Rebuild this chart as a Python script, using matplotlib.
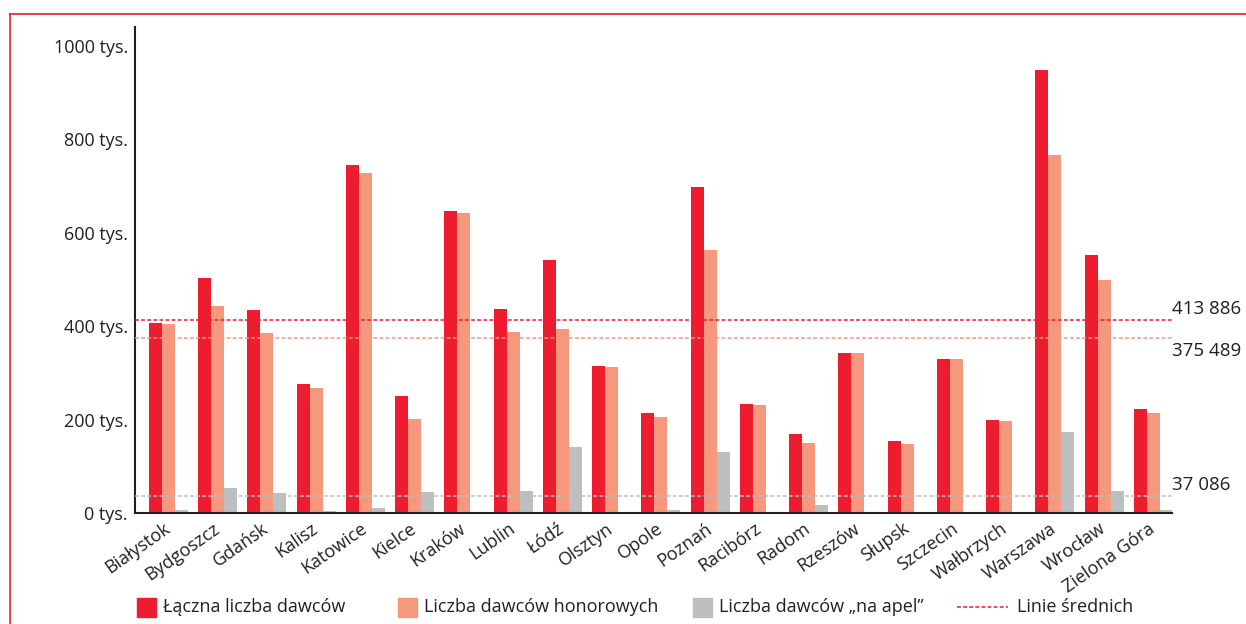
import matplotlib
matplotlib.use("Agg")
import matplotlib.pyplot as plt
from matplotlib.patches import Rectangle
from matplotlib.lines import Line2D
import numpy as np

# dane (w tysiącach)
miasta = ["Białystok", "Bydgoszcz", "Gdańsk", "Kalisz", "Katowice", "Kielce", "Kraków",
          "Lublin", "Łódź", "Olsztyn", "Opole", "Poznań", "Racibórz", "Radom", "Rzeszów",
          "Słupsk", "Szczecin", "Wałbrzych", "Warszawa", "Wrocław", "Zielona Góra"]
laczna = [407, 503, 435, 276, 745, 250, 647, 437, 542, 315, 214, 698, 233, 169, 343,
          154, 330, 199, 947, 553, 223]
honorowi = [405, 443, 385, 268, 728, 201, 642, 388, 394, 313, 206, 563, 231, 150, 343,
            148, 330, 197, 767, 499, 214]
na_apel = [6, 54, 43, 4, 11, 45, 0, 47, 141, 0, 6, 131, 0, 17, 0,
           2, 0, 0, 173, 47, 6]
srednie = [413.886, 375.489, 37.086]
srednie_etykiety = ["413 886", "375 489", "37 086"]
yticks = [0, 200, 400, 600, 800, 1000]

CZERWONY = "#ED1C2E"
LOSOSIOWY = "#F5987E"
SZARY = "#BCBEC0"
TEKST = "#231F20"

plt.rcParams['font.family'] = ['Open Sans', 'DejaVu Sans']
plt.rcParams['font.size'] = 13

fig = plt.figure(figsize=(12.46, 6.24), dpi=100)
ax = fig.add_axes([135 / 1246, 1 - 513 / 624, (1172 - 135) / 1246, (513 - 27) / 624])

x = np.arange(len(miasta))
w = 0.264
ax.bar(x - w, laczna, w, color=CZERWONY, zorder=2)
ax.bar(x, honorowi, w, color=LOSOSIOWY, zorder=2)
ax.bar(x + w, na_apel, w, color=SZARY, zorder=2)

# linie średnich
for val, kol in zip(srednie, [CZERWONY, LOSOSIOWY, SZARY]):
    ax.axhline(val, color=kol, lw=1.1, ls=(0, (2.5, 1.5)), zorder=3)

offs = [7.5, -10, 8]
for val, lab, o in zip(srednie, srednie_etykiety, offs):
    ax.annotate(lab, xy=(1, val), xycoords=('axes fraction', 'data'),
                xytext=(0, o), textcoords='offset points', va='center', ha='left',
                color=TEKST, fontsize=13.5, annotation_clip=False)

ax.set_xlim(-0.68, len(miasta) - 1 + 0.38)
ax.set_ylim(0, 1040)
ax.set_yticks(yticks)
ax.set_yticklabels([f"{v} tys." for v in yticks], color=TEKST)
ax.set_xticks(x)
ax.set_xticklabels(miasta, rotation=35, ha='right', va='center', rotation_mode='anchor',
                   color=TEKST)
ax.tick_params(axis='both', length=0)
ax.tick_params(axis='y', pad=5)
ax.tick_params(axis='x', pad=10)

for s in ['top', 'right']:
    ax.spines[s].set_visible(False)
for s in ['left', 'bottom']:
    ax.spines[s].set_color(TEKST)
    ax.spines[s].set_linewidth(1.5)

# legenda
leg_x = [137, 398, 693]
leg_txt = ["Łączna liczba dawców", "Liczba dawców honorowych", "Liczba dawców „na apel”"]
leg_kol = [CZERWONY, LOSOSIOWY, SZARY]
ly = 1 - 607 / 624
for px, t, k in zip(leg_x, leg_txt, leg_kol):
    fig.add_artist(Rectangle((px / 1246, ly - 9.5 / 624), 19 / 1246, 19 / 624,
                             color=k, transform=fig.transFigure))
    fig.text((px + 26) / 1246, ly, t, va='center', ha='left', color=TEKST, fontsize=13)
fig.add_artist(Line2D([957 / 1246, 1008 / 1246], [ly, ly], color=CZERWONY, lw=1.1,
                      ls=(0, (2.5, 1.5)), transform=fig.transFigure))
fig.text(1017 / 1246, ly, "Linie średnich", va='center', ha='left', color=TEKST, fontsize=13)

# ramka
top = 1 - 14 / 624
fig.add_artist(Line2D([10 / 1246, 10 / 1246], [0, top], color=CZERWONY, lw=1.2,
                      transform=fig.transFigure))
fig.add_artist(Line2D([10 / 1246, 1], [top, top], color=CZERWONY, lw=1.2,
                      transform=fig.transFigure))

fig.savefig("out.png", dpi=100, facecolor="white")
